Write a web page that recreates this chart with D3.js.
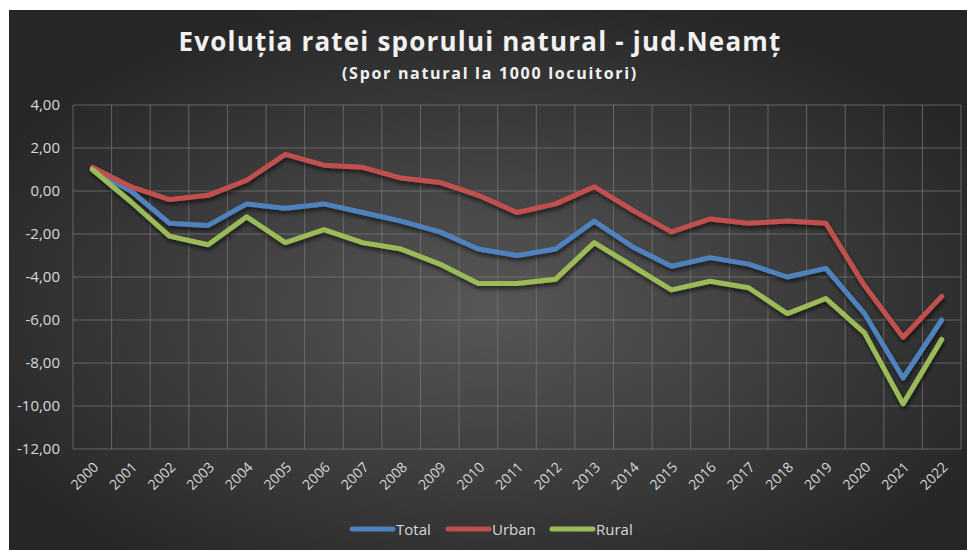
<!DOCTYPE html>
<html>
<head>
<meta charset="utf-8">
<script src="https://cdn.jsdelivr.net/npm/d3@7"></script>
<style>
  body { margin: 0; background: #fff; }
  text { font-family: "Open Sans", "Noto Sans", sans-serif; }
</style>
</head>
<body>
<div id="chart"></div>
<script>
// data
var years = ["2000","2001","2002","2003","2004","2005","2006","2007","2008","2009","2010","2011",
             "2012","2013","2014","2015","2016","2017","2018","2019","2020","2021","2022"];
var total = [1.0, 0.0, -1.5, -1.6, -0.6, -0.8, -0.6, -1.0, -1.4, -1.9, -2.7, -3.0,
             -2.7, -1.4, -2.6, -3.5, -3.1, -3.4, -4.0, -3.6, -5.7, -8.7, -6.0];
var urban = [1.1, 0.2, -0.4, -0.2, 0.5, 1.7, 1.2, 1.1, 0.6, 0.4, -0.2, -1.0,
             -0.6, 0.2, -0.9, -1.9, -1.3, -1.5, -1.4, -1.5, -4.4, -6.8, -4.9];
var rural = [1.0, -0.5, -2.1, -2.5, -1.2, -2.4, -1.8, -2.4, -2.7, -3.4, -4.3, -4.3,
             -4.1, -2.4, -3.5, -4.6, -4.2, -4.5, -5.7, -5.0, -6.6, -9.9, -6.9];
var yTicks = [4, 2, 0, -2, -4, -6, -8, -10, -12];
var seriesNames = ["Total", "Urban", "Rural"];
var seriesColors = ["#4F81BD", "#C0504D", "#9BBB59"];

var W = 967, H = 550;
var margin = {top: 105, right: 6, bottom: 101, left: 73};
var width = W - margin.left - margin.right,
    height = H - margin.top - margin.bottom;

var svg = d3.select("#chart").append("svg")
    .attr("width", W).attr("height", H);

var defs = svg.append("defs");
var grad = defs.append("radialGradient").attr("id", "bg")
    .attr("cx", "50%").attr("cy", "55%").attr("r", "60%");
grad.append("stop").attr("offset", "0%").attr("stop-color", "#575757");
grad.append("stop").attr("offset", "100%").attr("stop-color", "#262626");

var shadow = defs.append("filter").attr("id", "shadow")
    .attr("x", "-10%").attr("y", "-10%").attr("width", "120%").attr("height", "130%");
shadow.append("feDropShadow").attr("dx", 1).attr("dy", 3).attr("stdDeviation", 2)
    .attr("flood-color", "#000").attr("flood-opacity", 0.6);

// background panel
svg.append("rect").attr("x", 9).attr("y", 10).attr("width", W - 9).attr("height", H - 10)
    .attr("fill", "url(#bg)");

// titles
svg.append("text").attr("x", 480).attr("y", 51).attr("text-anchor", "middle")
    .attr("fill", "#f2f2f2").style("font-size", "26px").style("font-weight", "bold")
    .style("letter-spacing", "1.2px")
    .text("Evoluția ratei sporului natural - jud.Neamț");
svg.append("text").attr("x", 490).attr("y", 79).attr("text-anchor", "middle")
    .attr("fill", "#f2f2f2").style("font-size", "16px").style("font-weight", "bold")
    .style("letter-spacing", "1.7px")
    .text("(Spor natural la 1000 locuitori)");

var g = svg.append("g").attr("transform", "translate(" + margin.left + "," + margin.top + ")");

var x = d3.scaleBand().domain(years).range([0, width]);
var y = d3.scaleLinear().domain([-12, 4]).range([height, 0]);

var loc = d3.formatLocale({decimal: ",", thousands: ".", grouping: [3], currency: ["", ""], minus: "-"});
var fmt = loc.format(".2f");

// grid
g.append("g").selectAll("line").data(yTicks).enter().append("line")
    .attr("x1", 0).attr("x2", width)
    .attr("y1", function(d) { return y(d); }).attr("y2", function(d) { return y(d); })
    .attr("stroke", "#7a7a7a").attr("stroke-opacity", 0.7).attr("stroke-width", 1);
var xb = years.map(function(d) { return x(d); }).concat([width]);
g.append("g").selectAll("line").data(xb).enter().append("line")
    .attr("x1", function(d) { return d; }).attr("x2", function(d) { return d; })
    .attr("y1", 0).attr("y2", height)
    .attr("stroke", "#7a7a7a").attr("stroke-opacity", 0.7).attr("stroke-width", 1);

// y axis labels
var yAxis = g.append("g").call(d3.axisLeft(y).tickValues(yTicks).tickFormat(fmt).tickSize(0).tickPadding(13));
yAxis.select(".domain").remove();
yAxis.selectAll("text").attr("fill", "#d9d9d9").style("font-size", "15px")
    .style("font-family", "'Open Sans', sans-serif");

// x axis labels
var xAxis = g.append("g").attr("transform", "translate(0," + height + ")")
    .call(d3.axisBottom(x).tickSize(0).tickPadding(0));
xAxis.select(".domain").remove();
xAxis.selectAll("text")
    .attr("fill", "#d9d9d9").style("font-size", "14px")
    .style("font-family", "'Open Sans', sans-serif")
    .attr("text-anchor", "end").attr("dy", null).attr("y", null)
    .attr("transform", "translate(7,19) rotate(-45)");

// lines
var line = d3.line()
    .x(function(d, i) { return x(years[i]) + x.bandwidth() / 2; })
    .y(function(d) { return y(d); });
var series = [total, urban, rural];
g.append("g").attr("filter", "url(#shadow)").selectAll("path")
    .data(series).enter().append("path")
    .attr("d", line)
    .attr("fill", "none")
    .attr("stroke", function(d, i) { return seriesColors[i]; })
    .attr("stroke-width", 5)
    .attr("stroke-linejoin", "round")
    .attr("stroke-linecap", "round");

// legend
var legendX = [352, 448, 552];
var legend = svg.append("g").selectAll("g").data(seriesNames).enter().append("g")
    .attr("transform", function(d, i) { return "translate(" + legendX[i] + ",529)"; });
legend.append("line").attr("x1", 0).attr("x2", 41).attr("y1", 0).attr("y2", 0)
    .attr("stroke", function(d, i) { return seriesColors[i]; })
    .attr("stroke-width", 5).attr("stroke-linecap", "round");
legend.append("text").attr("x", 44).attr("y", 5.5)
    .attr("fill", "#d9d9d9").style("font-size", "15px")
    .text(function(d) { return d; });
</script>
</body>
</html>
